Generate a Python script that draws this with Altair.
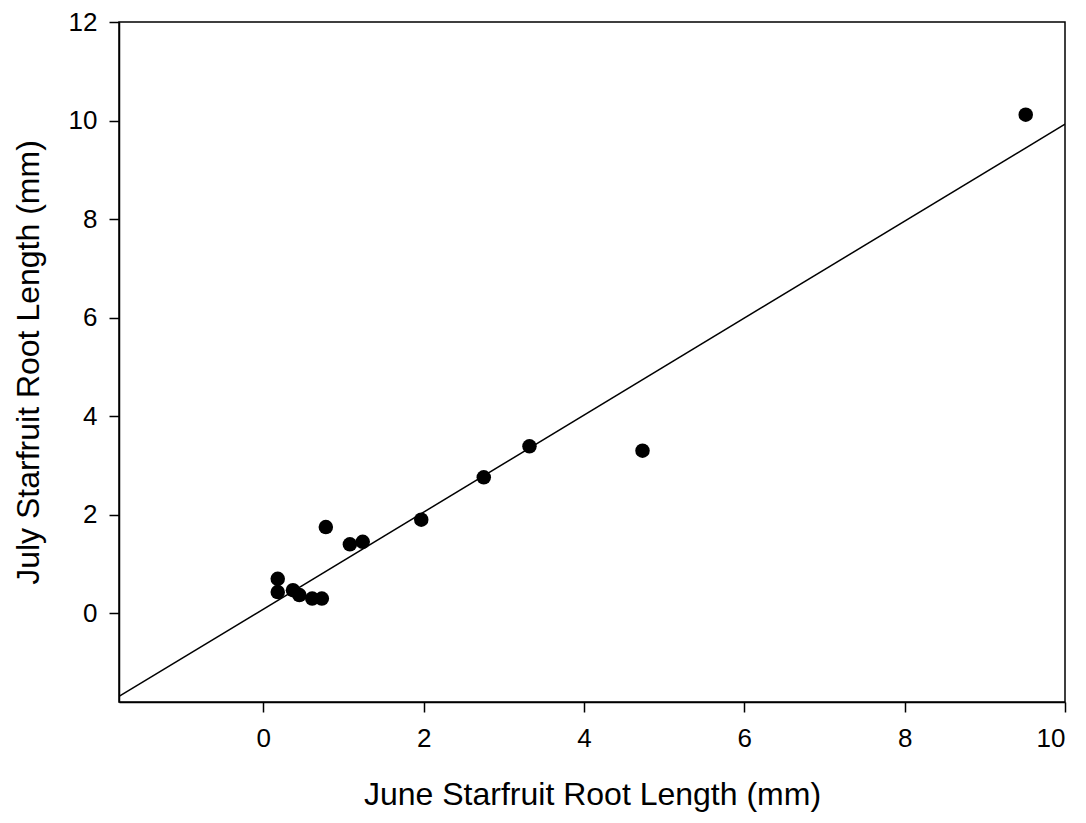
import altair as alt
import pandas as pd

june = [9.51, 4.73, 1.97, 2.75, 3.32, 0.78, 1.08, 1.24, 0.18, 0.18, 0.37, 0.45, 0.61, 0.73]
july = [10.12, 3.30, 1.90, 2.76, 3.39, 1.75, 1.40, 1.45, 0.70, 0.43, 0.47, 0.37, 0.30, 0.30]
x_ticks = [0, 2, 4, 6, 8, 10]
y_ticks = [0, 2, 4, 6, 8, 10, 12]

df = pd.DataFrame({"june": june, "july": july})

FONT = "Liberation Sans"

xscale = alt.Scale(domain=[-1.8, 10], nice=False, zero=False)
yscale = alt.Scale(domain=[-1.8, 12], nice=False, zero=False)

common = dict(grid=False, tickSize=10, tickColor="black", domainColor="black", tickWidth=1.5,
              domainWidth=1.5, labelFontSize=26, titleFontSize=32, labelFont=FONT,
              titleFont=FONT, labelColor="black", titleColor="black",
              titleFontWeight="normal", format="d")
xaxis = alt.Axis(values=x_ticks, title="June Starfruit Root Length (mm)",
                 labelPadding=13, titlePadding=28, **common)
yaxis = alt.Axis(values=y_ticks, title="July Starfruit Root Length (mm)",
                 labelPadding=12, titlePadding=23, **common)

points = alt.Chart(df).mark_circle(size=210, color="black", opacity=1).encode(
    x=alt.X("june:Q", scale=xscale, axis=xaxis),
    y=alt.Y("july:Q", scale=yscale, axis=yaxis),
)

line = alt.Chart(df).transform_regression(
    "june", "july", extent=[-1.8, 10]
).mark_line(color="black", strokeWidth=1.5, clip=True).encode(
    x=alt.X("june:Q", scale=xscale, axis=xaxis),
    y=alt.Y("july:Q", scale=yscale, axis=yaxis),
)

chart = alt.layer(points, line).properties(
    width=946, height=680,
    autosize=alt.AutoSizeParams(type="none"),
    padding={"left": 111, "top": 14, "right": 10, "bottom": 120},
    background="white",
).configure_view(stroke="black", strokeWidth=1.5)

chart.save("out.html", embed_options={"renderer": "svg", "actions": False})
